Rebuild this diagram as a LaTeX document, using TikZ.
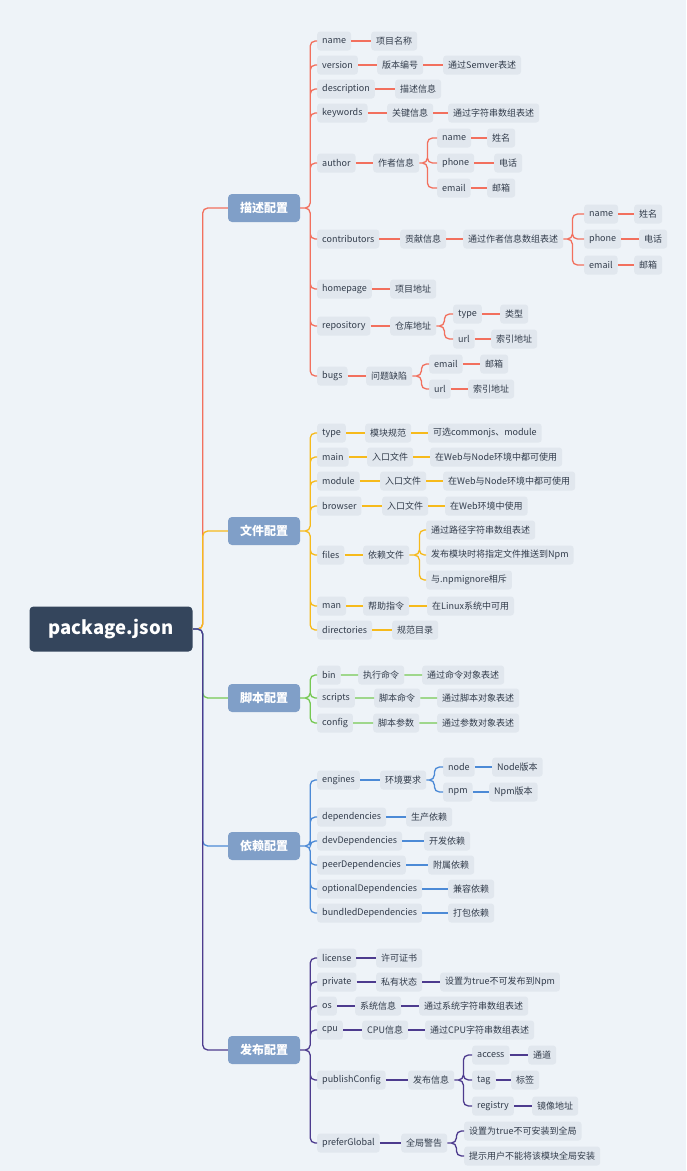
\documentclass[tikz,border=0pt]{standalone}
\usepackage{fontspec}
\setmainfont{Noto Sans CJK SC}
\definecolor{bgc}{HTML}{EEF3F8}
\definecolor{rootc}{HTML}{34455C}
\definecolor{catc}{HTML}{809FC8}
\definecolor{leafc}{HTML}{E1E7EE}
\definecolor{textc}{HTML}{323C4B}
\definecolor{cred}{HTML}{F2705E}
\definecolor{cyel}{HTML}{F6BA1C}
\definecolor{cgrn}{HTML}{76C853}
\definecolor{cblu}{HTML}{4C8AD6}
\definecolor{cpur}{HTML}{4D3B8E}
\tikzset{
  root/.style={fill=rootc, text=white, font=\fontsize{18.5}{20}\selectfont\bfseries,
    rounded corners=4pt, minimum width=163pt, minimum height=45pt},
  cat/.style={fill=catc, text=white, font=\fontsize{12}{14}\selectfont\bfseries,
    rounded corners=4pt, minimum width=72pt, minimum height=28pt},
  leaf/.style={fill=leafc, text=textc, font=\fontsize{9}{11}\selectfont,
    rounded corners=3pt, inner xsep=5pt, inner ysep=0pt, minimum height=19pt, anchor=west},
  lnk/.style={line width=1.3pt, rounded corners=5pt}
}
\begin{document}
\begin{tikzpicture}[x=1pt,y=-1pt]
\fill[bgc] (0,0) rectangle (686,1171);
\useasboundingbox (0,0) rectangle (686,1171);
% root and groups
\node[root] (pkg) at (111,629) {package.json};
\node[cat] (desc) at (264,208) {描述配置};
\node[cat] (file) at (264,531) {文件配置};
\node[cat] (script) at (264,698) {脚本配置};
\node[cat] (dep) at (264,846) {依赖配置};
\node[cat] (pub) at (264,1050) {发布配置};
\draw[lnk,draw=cred] (pkg.east) -- ++(10,0) |- (desc.west);
\draw[lnk,draw=cyel] (pkg.east) -- ++(10,0) |- (file.west);
\draw[lnk,draw=cgrn] (pkg.east) -- ++(10,0) |- (script.west);
\draw[lnk,draw=cblu] (pkg.east) -- ++(10,0) |- (dep.west);
\draw[lnk,draw=cpur] (pkg.east) -- ++(10,0) |- (pub.west);

% description:
\node[leaf] (name) at (317,41) {name};
\node[leaf] (nameA) at (371,41) {项目名称};
\node[leaf] (version) at (317,65) {version};
\node[leaf] (versionA) at (377,65) {版本编号};
\node[leaf] (versionB) at (443,65) {通过Semver表述};
\node[leaf] (descr) at (317,89) {description};
\node[leaf] (descrA) at (395,89) {描述信息};
\node[leaf] (keywords) at (317,113) {keywords};
\node[leaf] (keywordsA) at (387,113) {关键信息};
\node[leaf] (keywordsB) at (448,113) {通过字符串数组表述};
\node[leaf] (author) at (317,163) {author};
\node[leaf] (authorA) at (373,163) {作者信息};
\node[leaf] (authorName) at (437,138) {name};
\node[leaf] (authorNameA) at (487,138) {姓名};
\node[leaf] (authorPhone) at (437,163) {phone};
\node[leaf] (authorPhoneA) at (494,163) {电话};
\node[leaf] (authorEmail) at (437,188) {email};
\node[leaf] (authorEmailA) at (487,188) {邮箱};
\node[leaf] (contrib) at (317,239) {contributors};
\node[leaf] (contribA) at (400,239) {贡献信息};
\node[leaf] (contribB) at (463,239) {通过作者信息数组表述};
\node[leaf] (contribName) at (584,214) {name};
\node[leaf] (contribNameA) at (634,214) {姓名};
\node[leaf] (contribPhone) at (584,239) {phone};
\node[leaf] (contribPhoneA) at (639,239) {电话};
\node[leaf] (contribEmail) at (584,265) {email};
\node[leaf] (contribEmailA) at (634,265) {邮箱};
\node[leaf] (home) at (317,289) {homepage};
\node[leaf] (homeA) at (390,289) {项目地址};
\node[leaf] (repo) at (317,326) {repository};
\node[leaf] (repoA) at (390,326) {仓库地址};
\node[leaf] (repoType) at (453,314) {type};
\node[leaf] (repoTypeA) at (500,314) {类型};
\node[leaf] (repoUrl) at (453,339) {url};
\node[leaf] (repoUrlA) at (491,339) {索引地址};
\node[leaf] (bugs) at (317,376) {bugs};
\node[leaf] (bugsA) at (366,376) {问题缺陷};
\node[leaf] (bugsEmail) at (429,364) {email};
\node[leaf] (bugsEmailA) at (480,364) {邮箱};
\node[leaf] (bugsUrl) at (429,389) {url};
\node[leaf] (bugsUrlA) at (468,389) {索引地址};
\draw[lnk,draw=cred]
  (desc.east) -- ++(10,0) |- (name.west)      (desc.east) -- ++(10,0) |- (version.west)
  (desc.east) -- ++(10,0) |- (descr.west)     (desc.east) -- ++(10,0) |- (keywords.west)
  (desc.east) -- ++(10,0) |- (author.west)    (desc.east) -- ++(10,0) |- (contrib.west)
  (desc.east) -- ++(10,0) |- (home.west)      (desc.east) -- ++(10,0) |- (repo.west)
  (desc.east) -- ++(10,0) |- (bugs.west);
\draw[lnk,draw=cred]
  (name) -- (nameA)  (version) -- (versionA)  (versionA) -- (versionB)
  (descr) -- (descrA)  (keywords) -- (keywordsA)  (keywordsA) -- (keywordsB)
  (author) -- (authorA)  (contrib) -- (contribA)  (contribA) -- (contribB)
  (home) -- (homeA)  (repo) -- (repoA)  (bugs) -- (bugsA)
  (authorName) -- (authorNameA)  (authorPhone) -- (authorPhoneA)  (authorEmail) -- (authorEmailA)
  (contribName) -- (contribNameA)  (contribPhone) -- (contribPhoneA)  (contribEmail) -- (contribEmailA)
  (repoType) -- (repoTypeA)  (repoUrl) -- (repoUrlA)
  (bugsEmail) -- (bugsEmailA)  (bugsUrl) -- (bugsUrlA);
\draw[lnk,draw=cred]
  (authorA.east) -- ++(8,0) |- (authorName.west)  (authorA.east) -- ++(8,0) |- (authorPhone.west)
  (authorA.east) -- ++(8,0) |- (authorEmail.west)
  (contribB.east) -- ++(9,0) |- (contribName.west)  (contribB.east) -- ++(9,0) |- (contribPhone.west)
  (contribB.east) -- ++(9,0) |- (contribEmail.west)
  (repoA.east) -- ++(8,0) |- (repoType.west)  (repoA.east) -- ++(8,0) |- (repoUrl.west)
  (bugsA.east) -- ++(9,0) |- (bugsEmail.west)  (bugsA.east) -- ++(9,0) |- (bugsUrl.west);

% files:
\node[leaf] (type) at (317,433) {type};
\node[leaf] (typeA) at (365,433) {模块规范};
\node[leaf] (typeB) at (428,433) {可选commonjs、module};
\node[leaf] (main) at (317,457) {main};
\node[leaf] (mainA) at (367,457) {入口文件};
\node[leaf] (mainB) at (430,457) {在Web与Node环境中都可使用};
\node[leaf] (module) at (317,481) {module};
\node[leaf] (moduleA) at (380,481) {入口文件};
\node[leaf] (moduleB) at (443,481) {在Web与Node环境中都可使用};
\node[leaf] (browser) at (317,506) {browser};
\node[leaf] (browserA) at (382,506) {入口文件};
\node[leaf] (browserB) at (445,506) {在Web环境中使用};
\node[leaf] (files) at (317,555) {files};
\node[leaf] (filesA) at (363,555) {依赖文件};
\node[leaf] (filesB) at (426,530) {通过路径字符串数组表述};
\node[leaf] (filesC) at (426,555) {发布模块时将指定文件推送到Npm};
\node[leaf] (filesD) at (426,580) {与.npmignore相斥};
\node[leaf] (man) at (317,606) {man};
\node[leaf] (manA) at (363,606) {帮助指令};
\node[leaf] (manB) at (427,606) {在Linux系统中可用};
\node[leaf] (dirs) at (317,630) {directories};
\node[leaf] (dirsA) at (392,630) {规范目录};
\draw[lnk,draw=cyel]
  (file.east) -- ++(10,0) |- (type.west)     (file.east) -- ++(10,0) |- (main.west)
  (file.east) -- ++(10,0) |- (module.west)   (file.east) -- ++(10,0) |- (browser.west)
  (file.east) -- ++(10,0) |- (files.west)    (file.east) -- ++(10,0) |- (man.west)
  (file.east) -- ++(10,0) |- (dirs.west)
  (filesA.east) -- ++(10,0) |- (filesB.west)  (filesA.east) -- ++(10,0) |- (filesC.west)
  (filesA.east) -- ++(10,0) |- (filesD.west);
\draw[lnk,draw=cyel]
  (type) -- (typeA)  (typeA) -- (typeB)  (main) -- (mainA)  (mainA) -- (mainB)
  (module) -- (moduleA)  (moduleA) -- (moduleB)  (browser) -- (browserA)  (browserA) -- (browserB)
  (files) -- (filesA)  (man) -- (manA)  (manA) -- (manB)  (dirs) -- (dirsA);

% scripts:
\node[leaf] (bin) at (317,675) {bin};
\node[leaf] (binA) at (358,675) {执行命令};
\node[leaf] (binB) at (422,675) {通过命令对象表述};
\node[leaf] (scripts) at (317,698) {scripts};
\node[leaf] (scriptsA) at (374,698) {脚本命令};
\node[leaf] (scriptsB) at (437,698) {通过脚本对象表述};
\node[leaf] (config) at (317,723) {config};
\node[leaf] (configA) at (373,723) {脚本参数};
\node[leaf] (configB) at (437,723) {通过参数对象表述};
\draw[lnk,draw=cgrn]
  (script.east) -- ++(10,0) |- (bin.west)  (script.east) -- ++(10,0) |- (scripts.west)
  (script.east) -- ++(10,0) |- (config.west)
  (bin) -- (binA)  (binA) -- (binB)  (scripts) -- (scriptsA)  (scriptsA) -- (scriptsB)
  (config) -- (configA)  (configA) -- (configB);

% dependencies:
\node[leaf] (engines) at (317,780) {engines};
\node[leaf] (enginesA) at (380,780) {环境要求};
\node[leaf] (enginesNode) at (443,767) {node};
\node[leaf] (enginesNodeA) at (492,767) {Node版本};
\node[leaf] (enginesNpm) at (443,792) {npm};
\node[leaf] (enginesNpmA) at (489,792) {Npm版本};
\node[leaf] (deps) at (317,817) {dependencies};
\node[leaf] (depsA) at (406,817) {生产依赖};
\node[leaf] (devDeps) at (317,841) {devDependencies};
\node[leaf] (devDepsA) at (424,841) {开发依赖};
\node[leaf] (peerDeps) at (317,865) {peerDependencies};
\node[leaf] (peerDepsA) at (428,865) {附属依赖};
\node[leaf] (optDeps) at (317,889) {optionalDependencies};
\node[leaf] (optDepsA) at (448,889) {兼容依赖};
\node[leaf] (bundDeps) at (317,913) {bundledDependencies};
\node[leaf] (bundDepsA) at (448,913) {打包依赖};
\draw[lnk,draw=cblu]
  (dep.east) -- ++(10,0) |- (engines.west)  (dep.east) -- ++(10,0) |- (deps.west)
  (dep.east) -- ++(10,0) |- (devDeps.west)  (dep.east) -- ++(10,0) |- (peerDeps.west)
  (dep.east) -- ++(10,0) |- (optDeps.west)  (dep.east) -- ++(10,0) |- (bundDeps.west)
  (enginesA.east) -- ++(8,0) |- (enginesNode.west)  (enginesA.east) -- ++(8,0) |- (enginesNpm.west);
\draw[lnk,draw=cblu]
  (engines) -- (enginesA)  (enginesNode) -- (enginesNodeA)  (enginesNpm) -- (enginesNpmA)
  (deps) -- (depsA)  (devDeps) -- (devDepsA)  (peerDeps) -- (peerDepsA)
  (optDeps) -- (optDepsA)  (bundDeps) -- (bundDepsA);

% publishing:
\node[leaf] (license) at (317,958) {license};
\node[leaf] (licenseA) at (376,958) {许可证书};
\node[leaf] (private) at (317,982) {private};
\node[leaf] (privateA) at (376,982) {私有状态};
\node[leaf] (privateB) at (440,982) {设置为true不可发布到Npm};
\node[leaf] (os) at (317,1006) {os};
\node[leaf] (osA) at (355,1006) {系统信息};
\node[leaf] (osB) at (419,1006) {通过系统字符串数组表述};
\node[leaf] (cpu) at (317,1030) {cpu};
\node[leaf] (cpuA) at (362,1030) {CPU信息};
\node[leaf] (cpuB) at (425,1030) {通过CPU字符串数组表述};
\node[leaf] (pubCfg) at (317,1080) {publishConfig};
\node[leaf] (pubCfgA) at (408,1080) {发布信息};
\node[leaf] (access) at (472,1055) {access};
\node[leaf] (accessA) at (528,1055) {通道};
\node[leaf] (tag) at (472,1080) {tag};
\node[leaf] (tagA) at (511,1080) {标签};
\node[leaf] (registry) at (472,1106) {registry};
\node[leaf] (registryA) at (532,1106) {镜像地址};
\node[leaf] (prefGlobal) at (317,1143) {preferGlobal};
\node[leaf] (prefGlobalA) at (401,1143) {全局警告};
\node[leaf] (prefGlobalB) at (464,1131) {设置为true不可安装到全局};
\node[leaf] (prefGlobalC) at (464,1156) {提示用户不能将该模块全局安装};
\draw[lnk,draw=cpur]
  (pub.east) -- ++(10,0) |- (license.west)  (pub.east) -- ++(10,0) |- (private.west)
  (pub.east) -- ++(10,0) |- (os.west)       (pub.east) -- ++(10,0) |- (cpu.west)
  (pub.east) -- ++(10,0) |- (pubCfg.west)   (pub.east) -- ++(10,0) |- (prefGlobal.west)
  (pubCfgA.east) -- ++(9,0) |- (access.west)  (pubCfgA.east) -- ++(9,0) |- (tag.west)
  (pubCfgA.east) -- ++(9,0) |- (registry.west)
  (prefGlobalA.east) -- ++(9,0) |- (prefGlobalB.west)  (prefGlobalA.east) -- ++(9,0) |- (prefGlobalC.west);
\draw[lnk,draw=cpur]
  (license) -- (licenseA)  (private) -- (privateA)  (privateA) -- (privateB)
  (os) -- (osA)  (osA) -- (osB)  (cpu) -- (cpuA)  (cpuA) -- (cpuB)
  (pubCfg) -- (pubCfgA)  (access) -- (accessA)  (tag) -- (tagA)  (registry) -- (registryA)
  (prefGlobal) -- (prefGlobalA);
\end{tikzpicture}
\end{document}
